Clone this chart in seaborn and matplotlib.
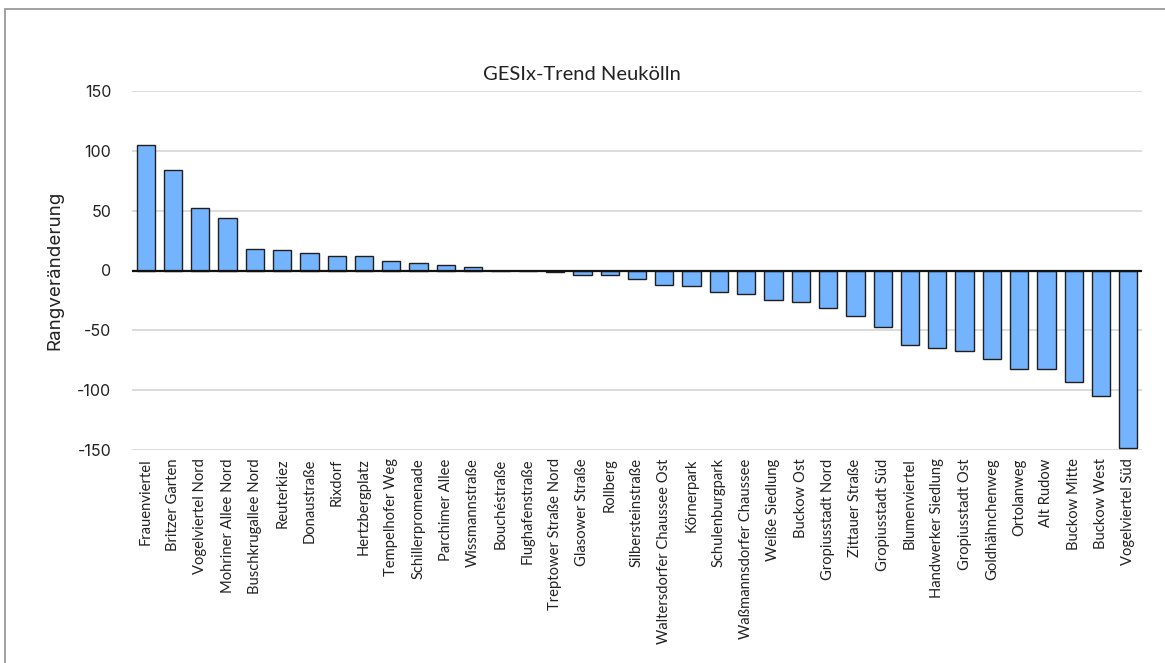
import matplotlib
matplotlib.use("Agg")
import matplotlib.pyplot as plt
import seaborn as sns
import pandas as pd
from matplotlib.patches import Rectangle

categories = [
    "Frauenviertel", "Britzer Garten", "Vogelviertel Nord", "Mohriner Allee Nord",
    "Buschkrugallee Nord", "Reuterkiez", "Donaustraße", "Rixdorf", "Hertzbergplatz",
    "Tempelhofer Weg", "Schillerpromenade", "Parchimer Allee", "Wissmannstraße",
    "Bouchéstraße", "Flughafenstraße", "Treptower Straße Nord", "Glasower Straße",
    "Rollberg", "Silbersteinstraße", "Waltersdorfer Chaussee Ost", "Körnerpark",
    "Schulenburgpark", "Waßmannsdorfer Chaussee", "Weiße Siedlung", "Buckow Ost",
    "Gropiusstadt Nord", "Zittauer Straße", "Gropiusstadt Süd", "Blumenviertel",
    "Handwerker Siedlung", "Gropiusstadt Ost", "Goldhähnchenweg", "Ortolanweg",
    "Alt Rudow", "Buckow Mitte", "Buckow West", "Vogelviertel Süd",
]
values = [
    105, 84, 52, 44, 18, 17, 15, 12, 12, 8, 6, 5, 3, 0, 0, -1, -4, -4, -7, -12,
    -13, -18, -20, -25, -26, -31, -38, -47, -62, -65, -67, -74, -82, -82, -93,
    -105, -148,
]
y_ticks = [150, 100, 50, 0, -50, -100, -150]
title = "GESIx-Trend Neukölln"
y_label = "Rangveränderung"

df = pd.DataFrame({"Stadtteil": categories, "Wert": values})

sns.set_theme(style="white")
plt.rcParams["font.family"] = ["Inter", "DejaVu Sans"]

fig = plt.figure(figsize=(11.65, 6.63), dpi=100)
ax = fig.add_axes([132 / 1165, (663 - 450) / 663, (1142 - 132) / 1165, (450 - 91) / 663])

sns.barplot(data=df, x="Stadtteil", y="Wert", ax=ax, color="#74B4FF",
            saturation=1, width=0.67, edgecolor="#1f1f1f", linewidth=1.0, zorder=3)

ax.set_ylim(-150, 150)
ax.set_xlim(-0.5, len(categories) - 0.5)
ax.set_yticks(y_ticks)
ax.set_yticklabels([str(t) for t in y_ticks], fontsize=11.5, color="#222222")
ax.yaxis.grid(True, color="#d9d9d9", linewidth=1.3, zorder=0)
ax.xaxis.grid(False)
ax.axhline(0, color="#111111", linewidth=1.6, zorder=4)
for s in ax.spines.values():
    s.set_visible(False)
ax.tick_params(axis="y", length=0, pad=15)
ax.tick_params(axis="x", length=0, pad=6)
ax.set_xticks(range(len(categories)))
ax.set_xticklabels(categories, rotation=90, fontsize=10.6, color="#222222",
                   family=["Lato", "DejaVu Sans"])
ax.set_xlabel("")
ax.set_ylabel(y_label, fontsize=13.5, color="#222222", labelpad=10)

fig.text(582 / 1165, 1 - 74 / 663, title, ha="center", va="center",
         fontsize=14.5, color="#222222", family=["Lato", "DejaVu Sans"])

fig.patches.append(Rectangle((4.5 / 1165, -0.05), 1.2, 1.05 - 9.5 / 663,
                             transform=fig.transFigure, fill=False,
                             edgecolor="#9a9a9a", linewidth=1.3))

fig.savefig("out.png", dpi=100)
